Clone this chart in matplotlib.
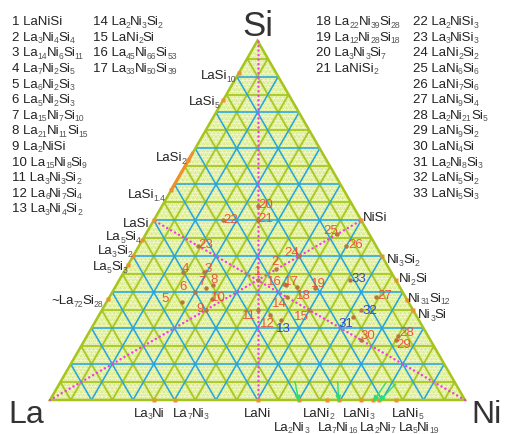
import re

import matplotlib
matplotlib.use("Agg")
import matplotlib.pyplot as plt
import numpy as np
from matplotlib.collections import LineCollection
from matplotlib.patches import Polygon
from matplotlib.transforms import IdentityTransform

plt.rcParams["font.family"] = ["Liberation Sans", "DejaVu Sans"]

SQ3 = np.sqrt(3) / 2
W, H = 505, 435

# ternary compounds: atom counts La, Ni, Si
cmp_la = [1, 3, 14, 7, 6, 5, 15, 21, 2, 15, 3, 6, 3, 2, 1, 45, 33, 22, 12, 3, 1,
          2, 3, 1, 1, 1, 1, 2, 1, 1, 2, 1, 1]
cmp_ni = [1, 4, 6, 2, 2, 2, 7, 11, 1, 8, 3, 7, 4, 3, 2, 66, 50, 39, 28, 3, 1,
          1, 1, 2, 6, 7, 9, 21, 9, 4, 8, 5, 5]
cmp_si = [1, 4, 11, 5, 3, 3, 10, 15, 1, 9, 2, 4, 2, 2, 1, 53, 39, 28, 18, 7, 2,
          3, 3, 2, 6, 6, 4, 5, 2, 1, 3, 2, 3]
blue_ids = [13, 31, 32, 33]

# binary phases on each edge (fraction of the second element)
lasi_names = ["LaSi_{10}", "LaSi_{5}", "LaSi_{2}", "LaSi_{1.4}", "LaSi",
              "La_{5}Si_{4}", "La_{3}Si_{2}", "La_{5}Si_{3}", "~La_{72}Si_{28}"]
lasi_si = [10 / 11, 5 / 6, 2 / 3, 1.4 / 2.4, 1 / 2, 4 / 9, 2 / 5, 3 / 8, 0.28]
lasi_range = [0.583, 0.69]

nisi_names = ["NiSi", "Ni_{3}Si_{2}", "Ni_{2}Si", "Ni_{31}Si_{12}", "Ni_{3}Si"]
nisi_si = [1 / 2, 2 / 5, 1 / 3, 12 / 43, 1 / 4]

lani_names = ["La_{3}Ni", "La_{7}Ni_{3}", "LaNi", "La_{2}Ni_{3}", "LaNi_{2}",
              "La_{7}Ni_{16}", "LaNi_{3}", "La_{2}Ni_{7}", "La_{5}Ni_{19}", "LaNi_{5}"]
lani_ni = [1 / 4, 3 / 10, 1 / 2, 3 / 5, 2 / 3, 16 / 23, 3 / 4, 7 / 9, 19 / 24, 5 / 6]

# medians drawn as dotted lines: (Ni, Si) start and end
median_from = [(0, 0), (1, 0), (0, 1)]
median_to = [(0.5, 0.5), (0, 0.5), (0.5, 0)]

# label offsets in pixels (dx right, dy down)
num_off = {1: (0, -9), 2: (-1, -8), 3: (4, -4), 4: (2, -4), 5: (-17, -4), 6: (-12, -6),
           7: (-4, -7), 8: (1, -6), 9: (-6, -2), 10: (6, -2), 11: (-9, 5), 12: (-2, 8),
           13: (3, 8), 14: (-8, 6), 15: (-8, 6), 16: (-10, -3), 17: (5, -4), 18: (6, 8),
           19: (4, -5), 20: (8, -2), 21: (8, -2), 22: (8, -1), 23: (7, -2), 24: (-7, -4),
           25: (-7, -4), 26: (9, -2), 27: (9, -2), 28: (8, -4), 29: (8, 4), 30: (7, -5),
           31: (-7, 6), 32: (9, 0), 33: (9, -2)}
lasi_off = [(-3, 5), (-4, 4), (-2, 0), (-6, 7), (-5, 6), (-2, -1), (-1, -3), (-1, 4), (-5, 4)]
nisi_off = [(2, 0), (5, 6), (3, 1), (1, 1), (5, 7)]
lani_off = [(-5, 16), (16, 16), (0, 16), (-8, 30), (-8, 16), (-1, 30), (-3, 16), (5, 30),
            (40, 30), (12, 16)]
lani_arrow = {3: (-4, 20), 5: (-1, 20), 7: (13, 19), 8: (17, 18)}


def tern(ni, si):
    return ni + si / 2, si * SQ3


def to_px(xy):
    # data -> picture pixels (origin top-left)
    return 50 + 415 * xy[0], 401 - 415 * xy[1]


def formula(la, ni, si):
    out = ""
    for sym, n in (("La", la), ("Ni", ni), ("Si", si)):
        out += sym if n == 1 else f"{sym}_{{{n}}}"
    return out


fig = plt.figure(figsize=(W / 100, H / 100), dpi=100)
ax = fig.add_axes([0, 0, 1, 1])
ax.set_xlim(-50 / 415, 455 / 415)
ax.set_ylim(-34 / 415, 401 / 415)
ax.axis("off")
renderer = fig.canvas.get_renderer()


def chem(x, y, s, ha="left", size=9.5, sub=6.2, color="#222222"):
    """Draw a formula with small lowered subscripts; x, y = baseline in pixels."""
    parts = [(p, i % 2 == 1) for i, p in enumerate(re.split(r"_\{([^}]*)\}", s)) if p]
    items = []
    for text, is_sub in parts:
        t = fig.text(0, 0, text, fontsize=sub if is_sub else size,
                     color="#555555" if is_sub else color,
                     transform=IdentityTransform(), va="baseline", ha="left", zorder=8)
        items.append((t, is_sub, t.get_window_extent(renderer).width - 0.5))
    total = sum(w for _, _, w in items)
    x0 = x - {"left": 0, "center": total / 2, "right": total}[ha]
    for t, is_sub, w in items:
        t.set_position((x0, H - y - (2.5 if is_sub else 0)))
        x0 += w


corners = [tern(0, 0), tern(1, 0), tern(0, 1)]
ax.add_patch(Polygon(corners, closed=True, facecolor="#d9eb8a", edgecolor="none", zorder=0))


def grid_segments(steps):
    segs = []
    for f in steps:
        segs.append([tern(0, f), tern(1 - f, f)])
        segs.append([tern(f, 0), tern(f, 1 - f)])
        segs.append([tern(1 - f, 0), tern(0, 1 - f)])
    return segs


fine = [i / 100 for i in range(1, 100) if i % 5]
green = [i / 20 for i in range(1, 20) if i % 2]
blue = [i / 10 for i in range(1, 10)]
ax.add_collection(LineCollection(grid_segments(fine), colors="#f3f8d2", linewidths=0.5, zorder=1))
ax.add_collection(LineCollection(grid_segments(green), colors="#a9c825", linewidths=1.3, zorder=2))
ax.add_collection(LineCollection(grid_segments(blue), colors="#22a4e4", linewidths=1.1, zorder=3))
ax.add_patch(Polygon(corners, closed=True, facecolor="none", edgecolor="#a6c41c",
                     linewidth=1.8, joinstyle="miter", zorder=4))

for a, b in zip(median_from, median_to):
    p, q = tern(*a), tern(*b)
    ax.plot([p[0], q[0]], [p[1], q[1]], color="#f03ce0", lw=1.8,
            linestyle=(0, (0.01, 1.8)), dash_capstyle="round", zorder=5)

# homogeneity range next to LaSi2
p, q = tern(0, lasi_range[0]), tern(0, lasi_range[1])
ax.plot([p[0], q[0]], [p[1], q[1]], color="#f0902a", lw=2.2, zorder=6, solid_capstyle="butt")

mk = dict(marker="s", ms=2.6, color="#f0902a", mec="none", zorder=6)

for name, s, (dx, dy) in zip(lasi_names, lasi_si, lasi_off):
    xy = tern(0, s)
    ax.plot(*xy, **mk)
    px, py = to_px(xy)
    chem(px + dx, py + dy, name, ha="right")

for name, s, (dx, dy) in zip(nisi_names, nisi_si, nisi_off):
    xy = tern(1 - s, s)
    ax.plot(*xy, **mk)
    px, py = to_px(xy)
    chem(px + dx, py + dy, name, ha="left")

for i, (name, n, (dx, dy)) in enumerate(zip(lani_names, lani_ni, lani_off)):
    xy = tern(n, 0)
    ax.plot(*xy, **mk)
    px, py = to_px(xy)
    chem(px + dx, py + dy, name, ha="center")
    if i in lani_arrow:
        ax.annotate("", xy=(xy[0], xy[1] - 2 / 415), xytext=lani_arrow[i],
                    textcoords="offset pixels",
                    arrowprops=dict(arrowstyle="-|>,head_length=0.35,head_width=0.15",
                                    color="#28e070", lw=1.0, shrinkA=0, shrinkB=0),
                    zorder=7)

# ternary compounds
for k, (la, ni, si) in enumerate(zip(cmp_la, cmp_ni, cmp_si), start=1):
    tot = la + ni + si
    xy = tern(ni / tot, si / tot)
    ax.plot(*xy, "o", ms=3.2, color="#b8763c", mec="none", zorder=6)
    dx, dy = num_off[k]
    col = "#2436e0" if k in blue_ids else "#ee4436"
    ax.annotate(str(k), xy, xytext=(dx, -dy), textcoords="offset pixels",
                ha="center", va="center", fontsize=9.5, color=col, alpha=0.9, zorder=8)

# compound list
col_x = [12.5, 93, 316.5, 413]
col_rows = [range(1, 14), range(14, 18), range(18, 22), range(22, 34)]
for cx, rows in zip(col_x, col_rows):
    for r, k in enumerate(rows):
        label = f"{k} " + formula(cmp_la[k - 1], cmp_ni[k - 1], cmp_si[k - 1])
        chem(cx, 20.7 + 4.5 + r * 15.6, label)

big = dict(color="#333333", ha="center", va="baseline", transform=IdentityTransform())
fig.text(257.5, H - 36, "Si", fontsize=25, **big)
fig.text(26, H - 423.5, "La", fontsize=23, **big)
fig.text(486.5, H - 423.5, "Ni", fontsize=23, **big)

fig.savefig("out.png", dpi=100)
